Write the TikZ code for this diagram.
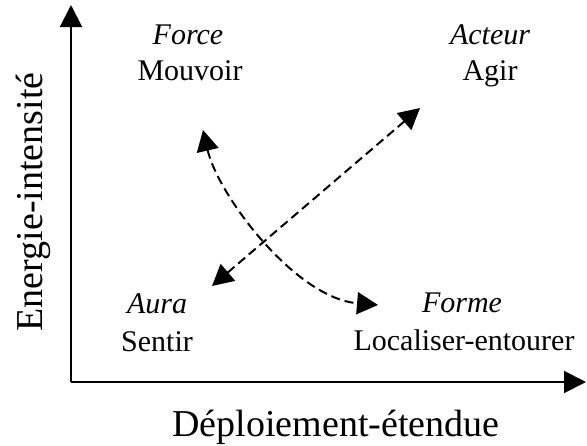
\documentclass[tikz,border=0pt]{standalone}
\usepackage{fontspec}
\setmainfont{Liberation Serif}
\usetikzlibrary{arrows.meta}
\tikzset{
  axis/.style={line width=2pt, -{Triangle[length=22pt, width=22pt]}},
  dasharrow/.style={line width=2pt, dash pattern=on 9pt off 5pt,
     {Triangle[length=21pt, width=22pt]}-{Triangle[length=21pt, width=22pt]}},
  lbl/.style={anchor=base, inner sep=0pt, font=\fontsize{30}{36}\selectfont},
  axlbl/.style={anchor=base, inner sep=0pt, font=\fontsize{38}{46}\selectfont},
}
\begin{document}
\begin{tikzpicture}[x=1pt, y=-1pt]
\useasboundingbox (0,0) rectangle (587,445);
\coordinate (O) at (71,382);
\coordinate (ytip) at (71,5);
\coordinate (xtip) at (586,382);
\draw[axis] (O) -- (ytip);
\draw[axis] (O) -- (xtip);
\node[axlbl, rotate=90] (ylab) at (42,202) {Energie-intensité};
\node[axlbl] (xlab) at (336,436) {Déploiement-étendue};
\node[lbl] (force) at (188,44) {\itshape Force};
\node[lbl] (mouvoir) at (190,80) {Mouvoir};
\node[lbl] (acteur) at (490,44) {\itshape Acteur};
\node[lbl] (agir) at (490,80) {Agir};
\node[lbl] (aura) at (157,313) {\itshape Aura};
\node[lbl] (sentir) at (157,351) {Sentir};
\node[lbl] (forme) at (462,312) {\itshape Forme};
\node[lbl] (local) at (464,350) {Localiser-entourer};
\coordinate (a1) at (212,286);
\coordinate (a2) at (420,108);
\coordinate (c1) at (203,130);
\coordinate (c2) at (378,305);
\draw[dasharrow] (a1) -- (a2);
\draw[dasharrow] (c1) .. controls (218,195) and (295,298) .. (c2);
\end{tikzpicture}
\end{document}
